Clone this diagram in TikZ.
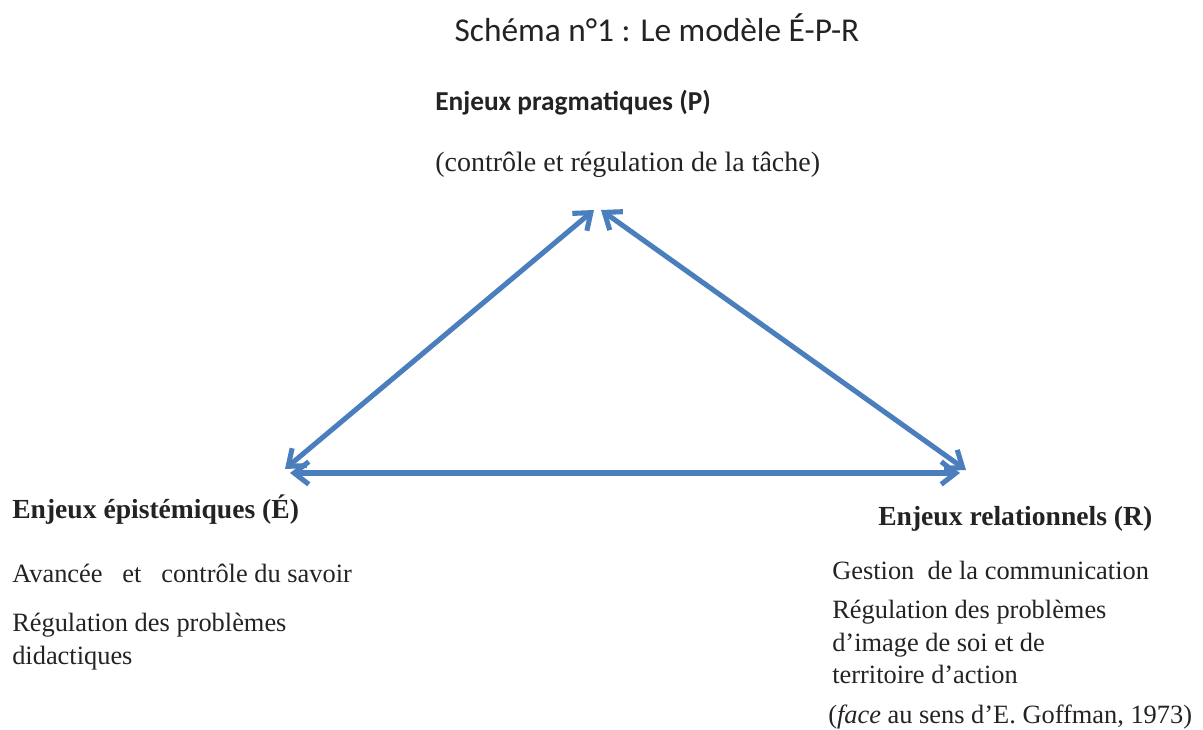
\documentclass[tikz,border=0pt]{standalone}
\usepackage{fontspec}
\setmainfont{Liberation Serif}
\newfontfamily\titlefont{Carlito}
\usetikzlibrary{arrows.meta,positioning}
\definecolor{epblue}{RGB}{74,126,189}
\definecolor{eptext}{RGB}{35,35,35}

\begin{document}
\begin{tikzpicture}[x=0.75pt,y=-0.75pt,text=eptext,
  link/.style={draw=epblue,line width=3.8pt,{Straight Barb[length=11pt,width=17pt]}-{Straight Barb[length=11pt,width=17pt]}},
  head node/.style={anchor=west,inner sep=0pt,font=\fontsize{20.7}{24}\selectfont\bfseries},
  body node/.style={anchor=north west,inner sep=0pt,align=left,font=\fontsize{19.8}{24.5}\selectfont}]

  \useasboundingbox (0,0) rectangle (1203,730);

  \node[inner sep=0pt,font=\titlefont\fontsize{25}{30}\selectfont] (title) at (657,28) {Schéma n°1 : Le modèle É-P-R};

  % sommets du triangle
  \coordinate (p1) at (594,210);
  \coordinate (p2) at (601,210);
  \coordinate (e) at (285,469);
  \coordinate (r) at (966,470);
  \coordinate (e2) at (290,473);
  \coordinate (r2) at (960,473);

  \node[head node,font=\titlefont\fontsize{20.5}{24}\selectfont\bfseries] (1) at (435,103) {Enjeux pragmatiques (P)};
  \node[body node,anchor=west,font=\fontsize{21}{25}\selectfont] (1a) at (435,165) {(contrôle et régulation de la tâche)};

  \node[head node] (2) at (12,510) {Enjeux épistémiques (É)};
  \node[body node,anchor=west] (2a) at (12,573) {Avancée \ \ et \ \ contrôle du savoir};
  \node[body node] (2b) at (12,613) {Régulation des problèmes\\didactiques};

  \node[head node] (3) at (878,519) {Enjeux relationnels (R)};
  \node[body node,anchor=west] (3a) at (832,570) {Gestion \ de la communication};
  \node[body node] (3b) at (832,600) {Régulation des problèmes\\d’image de soi et de\\territoire d’action};
  \node[body node,anchor=west] (3c) at (828,717) {(\textit{face} au sens d’E. Goffman, 1973)};

  \path[link] (e) -- (p1);
  \path[link] (p2) -- (r);
  \path[link] (e2) -- (r2);
\end{tikzpicture}
\end{document}
